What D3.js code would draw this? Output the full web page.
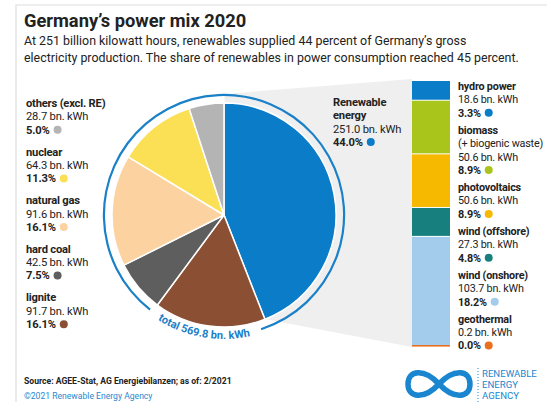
<!DOCTYPE html>
<html lang="en">
<head>
<meta charset="UTF-8">
<title>Germany's power mix 2020</title>
<style>
  html, body { margin: 0; padding: 0; background: #fff; }
  svg text { font-family: "Roboto", "Liberation Sans", sans-serif; fill: #222; }
  .bold { font-weight: 700; }
  .lab { letter-spacing: -0.2px; }
</style>
</head>
<body>
<div id="chart"></div>
<script src="https://d3js.org/d3.v7.min.js"></script>
<script>
// power mix (pie), clockwise from 12 o'clock
const mixNames = ["Renewable energy", "lignite", "hard coal", "natural gas", "nuclear", "others (excl. RE)"];
const mixValues = [251.0, 91.7, 42.5, 91.6, 64.3, 28.7];
const mixShares = [44.0, 16.1, 7.5, 16.1, 11.3, 5.0];
const mixColors = ["#0a7cc8", "#8b4f33", "#5e5e5e", "#fcd2a0", "#fbdf55", "#b4b4b4"];

// renewables breakdown (stacked bar), top to bottom
const reNames = ["hydro power", "biomass", "photovoltaics", "wind (offshore)", "wind (onshore)", "geothermal"];
const reNotes = ["", "(+ biogenic waste)", "", "", "", ""];
const reValues = [18.6, 50.6, 50.6, 27.3, 103.7, 0.2];
const reShares = [3.3, 8.9, 8.9, 4.8, 18.2, 0.0];
const reColors = ["#0a7cc8", "#a9c51b", "#f7b900", "#17807f", "#a3cbec", "#e8701e"];

const totalLabel = "total 569.8 bn. kWh";

const W = 547, H = 402;
const svg = d3.select("#chart").append("svg")
  .attr("width", W).attr("height", H);

// frame
svg.append("path").attr("d", `M16,${H} V5 H${W}`)
  .attr("fill", "none").attr("stroke", "#dedede").attr("stroke-width", 1.2);

// title
svg.append("text").attr("class", "bold").attr("x", 24).attr("y", 27)
  .attr("font-size", 18.3).attr("fill", "#1a1a1a").text("Germany’s power mix 2020");
const sub = ["At 251 billion kilowatt hours, renewables supplied 44 percent of Germany’s gross",
             "electricity production. The share of renewables in power consumption reached 45 percent."];
sub.forEach((s, i) => svg.append("text").attr("x", 24).attr("y", 45 + i * 16.5)
  .attr("font-size", 12.4).attr("fill", "#222").text(s));

// pie geometry
const cx = 224, cy = 215, R = 112;
const bar = { x: 412, w: 38, top: 81, bottom: 347 };

// grey connector
svg.append("path")
  .attr("d", `M${cx},${cy - 121} L${bar.x},${bar.top - 2} L${bar.x},${bar.bottom} L${cx + 20},${cy + 100} Z`)
  .attr("fill", "#efefef");

const pie = d3.pie().sort(null).value(d => d)(mixValues);
const arc = d3.arc().innerRadius(0).outerRadius(R);
const g = svg.append("g").attr("transform", `translate(${cx},${cy})`);
g.selectAll("path.slice").data(pie).join("path")
  .attr("class", "slice")
  .attr("d", arc)
  .attr("fill", (d, i) => mixColors[i])
  .attr("stroke", "#fff").attr("stroke-width", 1.5).attr("stroke-linejoin", "round");

// outer ring with a gap for the total label
const deg = Math.PI / 180;
g.append("path")
  .attr("d", d3.arc().innerRadius(119).outerRadius(121.2)({ startAngle: -142 * deg, endAngle: 162 * deg }))
  .attr("fill", "#1a80c8");

const rt = 124;
const a1 = 220 * deg, a2 = 160 * deg;
g.append("path").attr("id", "totalPath").attr("fill", "none")
  .attr("d", `M${rt * Math.sin(a1)},${-rt * Math.cos(a1)} A${rt},${rt} 0 0 0 ${rt * Math.sin(a2)},${-rt * Math.cos(a2)}`);
g.append("text").attr("class", "bold").attr("font-size", 11).style("fill", "#1a80c8")
  .append("textPath").attr("href", "#totalPath").attr("startOffset", "50%")
  .attr("text-anchor", "middle").text(totalLabel);

// stacked bar of renewables
const reTotal = d3.sum(reValues);
const y = d3.scaleLinear().domain([0, reTotal]).range([bar.top, bar.bottom]);
const stack = [];
let acc = 0;
reValues.forEach((v, i) => { stack.push({ i, y0: acc, y1: acc + v }); acc += v; });
svg.append("g").selectAll("rect").data(stack).join("rect")
  .attr("x", bar.x).attr("width", bar.w)
  .attr("y", d => d.i === reValues.length - 1 ? Math.min(y(d.y0), bar.bottom - 2) : y(d.y0))
  .attr("height", d => Math.max(y(d.y1) - y(d.y0) - 1, 1.6))
  .attr("fill", d => reColors[d.i]);

// label helper
function block(x, y0, lines, color, fs) {
  const lh = 13.3;
  lines.forEach((l, k) => {
    const t = svg.append("text").attr("x", x).attr("y", y0 + k * lh)
      .attr("font-size", fs).attr("class", l.bold ? "lab bold" : "lab")
      .attr("fill", l.bold ? "#1e1e1e" : "#333").text(l.text);
    if (l.dot) {
      const w = t.node().getComputedTextLength();
      svg.append("circle").attr("cx", x + w + 8).attr("cy", y0 + k * lh - 3.8)
        .attr("r", 4).attr("fill", color);
    }
  });
  return lines.length * lh;
}
const fmt = d3.format(".1f");

// left labels (non-renewables, listed bottom-up of the pie)
const leftOrder = [5, 4, 3, 2, 1];
leftOrder.forEach((idx, k) => {
  block(26, 107 + k * 48.6, [
    { text: mixNames[idx], bold: true },
    { text: `${fmt(mixValues[idx])} bn. kWh` },
    { text: `${fmt(mixShares[idx])}%`, bold: true, dot: true }
  ], mixColors[idx], 11.2);
});

// renewable label
block(333, 106, [
  { text: "Renewable", bold: true },
  { text: "energy", bold: true },
  { text: `${fmt(mixValues[0])} bn. kWh` },
  { text: `${fmt(mixShares[0])}%`, bold: true, dot: true }
], mixColors[0], 11.2);

// right labels
let ry = 90;
reNames.forEach((n, i) => {
  const lines = [{ text: n, bold: true }];
  if (reNotes[i]) lines.push({ text: reNotes[i] });
  lines.push({ text: `${fmt(reValues[i])} bn. kWh` });
  lines.push({ text: `${fmt(reShares[i])}%`, bold: true, dot: true });
  ry += block(458, ry, lines, reColors[i], 10.8) + 4;
});

// footer
svg.append("text").attr("class", "bold").attr("x", 24).attr("y", 384)
  .attr("font-size", 8.6).attr("fill", "#1e1e1e")
  .text("Source: AGEE-Stat, AG Energiebilanzen; as of: 2/2021");
svg.append("text").attr("x", 24).attr("y", 399)
  .attr("font-size", 8.6).style("fill", "#2a88cf")
  .text("©2021 Renewable Energy Agency");

// logo
svg.append("path")
  .attr("d", "M439,384 C454,368 470,370 470,384 C470,398 454,400 439,384 C424,368 408,370 408,384 C408,398 424,400 439,384 Z")
  .attr("fill", "none").attr("stroke", "#1a86cf").attr("stroke-width", 5.5);
svg.append("line").attr("x1", 478).attr("x2", 478).attr("y1", 368).attr("y2", 402)
  .attr("stroke", "#1a86cf").attr("stroke-width", 1).attr("stroke-dasharray", "1,2");
["RENEWABLE", "ENERGY", "AGENCY"].forEach((s, i) =>
  svg.append("text").attr("x", 482).attr("y", 377 + i * 11)
    .attr("font-size", 9.6).style("fill", "#1a86cf").text(s));
</script>
</body>
</html>
